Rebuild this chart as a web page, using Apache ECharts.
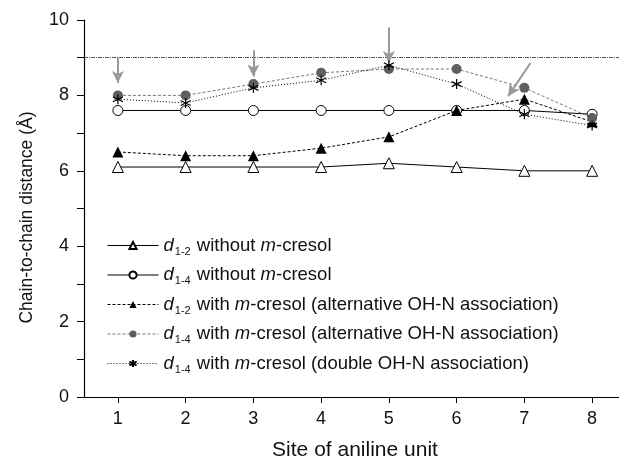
<!DOCTYPE html>
<html><head><meta charset="utf-8">
<script src="https://cdn.jsdelivr.net/npm/echarts@6/dist/echarts.min.js"></script>
<style>html,body{margin:0;padding:0;background:#fff}#c{width:619px;height:457px}</style>
</head><body><div id="c"></div>
<script>
const sites = [1, 2, 3, 4, 5, 6, 7, 8];
const yTicks = [0, 2, 4, 6, 8, 10];
const d12Without = [6.1, 6.1, 6.1, 6.1, 6.2, 6.1, 6.0, 6.0];
const d14Without = [7.6, 7.6, 7.6, 7.6, 7.6, 7.6, 7.6, 7.5];
const d12WithAlt = [6.5, 6.4, 6.4, 6.6, 6.9, 7.6, 7.9, 7.3];
const d14WithAlt = [8.0, 8.0, 8.3, 8.6, 8.7, 8.7, 8.2, 7.4];
const d14WithDouble = [7.9, 7.8, 8.2, 8.4, 8.8, 8.3, 7.5, 7.2];
const refLevel = 9;
// annotation arrows: [xStart, yStart, xEnd, yEnd] in data units
const arrows = [
  [1, 9.0, 1, 8.33],
  [3, 9.2, 3, 8.5],
  [5, 9.8, 5, 8.86],
  [7.09, 8.86, 6.76, 7.98]
];
const seriesNames = [
  'd1-2 without m-cresol',
  'd1-4 without m-cresol',
  'd1-2 with m-cresol (alternative OH-N association)',
  'd1-4 with m-cresol (alternative OH-N association)',
  'd1-4 with m-cresol (double OH-N association)'
];

const pairs = arr => sites.map((s, i) => [s, arr[i]]);
const FONT = 'Liberation Sans, Arial, sans-serif';
const starPath = 'path://M5,0 L5,10 M0.67,2.5 L9.33,7.5 M0.67,7.5 L9.33,2.5';

const chart = echarts.init(document.getElementById('c'));
const axisLineStyle = {color: '#000', width: 1.2};

function legendFmt(name) {
  const m = name.match(/^d(\S+) (.*)$/);
  const sub = m[1];
  const parts = m[2].split('m-cresol');
  return '{d|d}{s|' + sub + '}{t| ' + parts[0] + '}{m|m}{t|-cresol' + parts[1] + '}';
}

const LF = 18.5;
const option = {
  animation: false,
  grid: {left: 84, right: -7, top: 20, bottom: 60, outerBoundsMode: 'none', containLabel: false},
  legend: {
    data: seriesNames,
    orient: 'vertical',
    left: 102,
    top: 229,
    itemWidth: 51,
    itemHeight: 9,
    itemGap: 6.5,
    lineStyle: {width: 1},
    formatter: legendFmt,
    textStyle: {
      fontFamily: FONT, fontSize: LF, color: '#111',
      rich: {
        d: {fontFamily: FONT, fontSize: LF, fontStyle: 'italic', color: '#111', lineHeight: 20, verticalAlign: 'middle'},
        s: {fontFamily: FONT, fontSize: 11, color: '#111', lineHeight: 12, padding: [12, 1, 0, 1], verticalAlign: 'middle'},
        t: {fontFamily: FONT, fontSize: LF, color: '#111', lineHeight: 20, verticalAlign: 'middle'},
        m: {fontFamily: FONT, fontSize: LF, fontStyle: 'italic', color: '#111', lineHeight: 20, verticalAlign: 'middle'}
      }
    }
  },
  xAxis: [{
    type: 'value', min: 0.5, max: 8.5,
    name: 'Site of aniline unit', nameLocation: 'middle', nameGap: 43,
    nameTextStyle: {fontFamily: FONT, fontSize: 21, color: '#111'},
    axisLine: {lineStyle: axisLineStyle},
    axisTick: {show: true, inside: false, length: 6, lineStyle: {color: '#000'}, customValues: sites},
    axisLabel: {fontFamily: FONT, fontSize: 18, color: '#111', margin: 13, customValues: sites},
    splitLine: {show: false}
  }, {
    type: 'value', min: 0.5, max: 8.5, position: 'top',
    axisLine: {show: true, lineStyle: axisLineStyle},
    axisTick: {show: true, inside: true, length: 6, lineStyle: {color: '#000'}, customValues: sites},
    axisLabel: {show: false},
    splitLine: {show: false}
  }],
  yAxis: [{
    type: 'value', min: 0, max: 10, interval: 2,
    name: 'Chain-to-chain distance (\u00c5)', nameLocation: 'middle', nameGap: 48,
    nameTextStyle: {fontFamily: FONT, fontSize: 17.5, color: '#111', padding: [0, 18, 0, 0]},
    axisLine: {show: true, lineStyle: axisLineStyle},
    axisTick: {show: true, inside: false, length: 7, lineStyle: {color: '#000'}},
    minorTick: {show: true, splitNumber: 2, length: 7, lineStyle: {color: '#000'}},
    axisLabel: {fontFamily: FONT, fontSize: 18, color: '#111', margin: 15,
      customValues: yTicks},
    splitLine: {show: false}
  }, {
    type: 'value', min: 0, max: 10, interval: 2, position: 'right',
    axisLine: {show: true, lineStyle: axisLineStyle},
    axisTick: {show: true, inside: true, length: 6, lineStyle: {color: '#000'}},
    axisLabel: {show: false},
    splitLine: {show: false}
  }],
  series: [
    {
      name: seriesNames[0], type: 'line', data: pairs(d12Without),
      symbol: 'triangle', symbolSize: 11,
      lineStyle: {color: '#000', width: 1, type: 'solid'},
      itemStyle: {color: '#fff', borderColor: '#000', borderWidth: 1}, z: 3
    },
    {
      name: seriesNames[1], type: 'line', data: pairs(d14Without),
      symbol: 'circle', symbolSize: 10,
      lineStyle: {color: '#000', width: 1, type: 'solid'},
      itemStyle: {color: '#fff', borderColor: '#000', borderWidth: 1}, z: 3
    },
    {
      name: seriesNames[2], type: 'line', data: pairs(d12WithAlt),
      symbol: 'triangle', symbolSize: 11,
      lineStyle: {color: '#000', width: 1, type: [3, 2]},
      itemStyle: {color: '#000', borderColor: '#000', borderWidth: 0}, z: 4
    },
    {
      name: seriesNames[3], type: 'line', data: pairs(d14WithAlt),
      symbol: 'circle', symbolSize: 10,
      lineStyle: {color: '#777', width: 1, type: [3, 2]},
      itemStyle: {color: '#5f5f5f', borderColor: '#5f5f5f', borderWidth: 0}, z: 4
    },
    {
      name: seriesNames[4], type: 'line', data: pairs(d14WithDouble),
      symbol: starPath, symbolSize: 10,
      lineStyle: {color: '#000', width: 1, type: [1, 2]},
      itemStyle: {color: 'none', borderColor: '#000', borderWidth: 1.2}, z: 5
    },
    {
      name: 'annotations', type: 'line', data: [], silent: true,
      markLine: {
        silent: true, animation: false,
        label: {show: false},
        data: [
          [{coord: [0.5, refLevel], symbol: 'none', lineStyle: {color: '#555', width: 1, type: [4, 1, 1, 1]}},
           {coord: [8.5, refLevel], symbol: 'none'}]
        ].concat(arrows.map(a => [
          {coord: [a[0], a[1]], symbol: 'none', lineStyle: {color: '#999', width: 2, type: 'solid'}},
          {coord: [a[2], a[3]], symbol: 'arrow', symbolSize: [9, 12]}
        ])),
        symbol: ['none', 'none']
      }
    }
  ]
};
chart.setOption(option);
</script></body></html>
